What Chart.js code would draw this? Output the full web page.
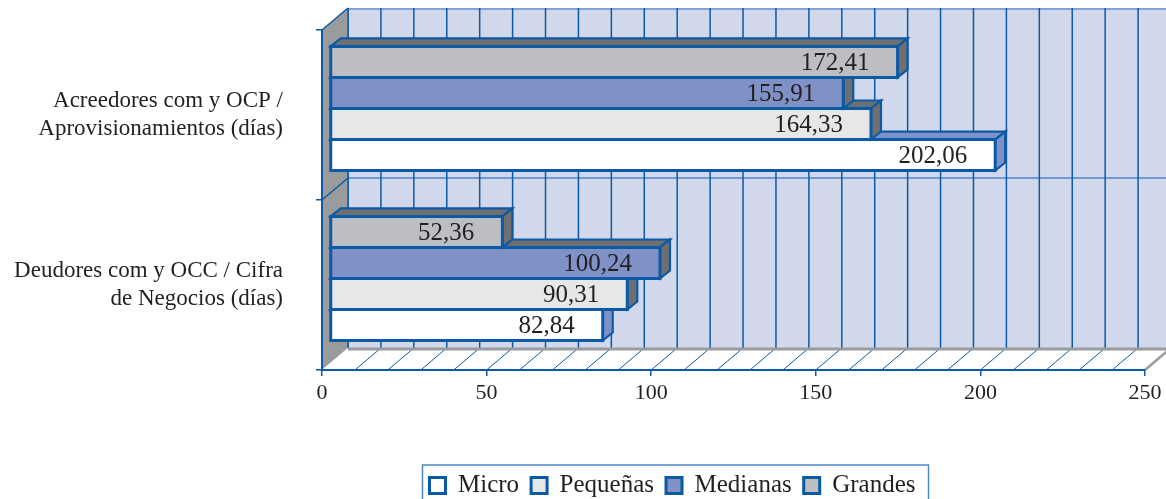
<!DOCTYPE html>
<html>
<head>
<meta charset="utf-8">
<script src="https://cdn.jsdelivr.net/npm/chart.js@4.4.0/dist/chart.umd.min.js"></script>
<style>
  html, body { margin: 0; padding: 0; background: #ffffff; }
  #wrap { width: 1166px; height: 499px; position: relative; }
</style>
</head>
<body>
<div id="wrap"><canvas id="chart"></canvas></div>
<script>
// Period ratios (days) by company size
const categories = [
  ['Acreedores com y OCP /', 'Aprovisionamientos (días)'],
  ['Deudores com y OCC / Cifra', 'de Negocios (días)']
];
const seriesNames = ['Grandes', 'Medianas', 'Pequeñas', 'Micro'];
const grandes  = [172.41, 52.36];
const medianas = [155.91, 100.24];
const pequenas = [164.33, 90.31];
const micro    = [202.06, 82.84];
const xTickValues = [0, 50, 100, 150, 200, 250];

const SERIF = '"Liberation Serif", "DejaVu Serif", serif';
const INK = '#231F20';
const BLUE = '#0B5AA6';
const SIDE_GRAY = '#6E6F71';

// front, side/top colours per series
const fills = {
  'Grandes':  { front: '#BDBEC1', side: SIDE_GRAY },
  'Medianas': { front: '#7F91C6', side: SIDE_GRAY },
  'Pequeñas': { front: '#E6E7E9', side: SIDE_GRAY },
  'Micro':    { front: '#FFFFFF', side: '#7F91C6' }
};
const seriesValues = [grandes, medianas, pequenas, micro];

// depth offsets of the pseudo-3D box
const WALL = { dx: 26, dy: -22 };      // back wall relative to the front plane
const BAR_SHIFT = { dx: 8, dy: -6.5 }; // bar front faces
const BAR_DEPTH = { dx: 10, dy: -8 };  // bar thickness in depth

function fmt(v) { return v.toFixed(2).replace('.', ','); }

function poly(ctx, pts, fill, stroke, lw) {
  ctx.beginPath();
  ctx.moveTo(pts[0][0], pts[0][1]);
  for (let i = 1; i < pts.length; i++) ctx.lineTo(pts[i][0], pts[i][1]);
  ctx.closePath();
  if (fill) { ctx.fillStyle = fill; ctx.fill(); }
  if (stroke) { ctx.strokeStyle = stroke; ctx.lineWidth = lw; ctx.stroke(); }
}
function seg(ctx, x1, y1, x2, y2, color, lw) {
  ctx.beginPath();
  ctx.moveTo(x1, y1); ctx.lineTo(x2, y2);
  ctx.strokeStyle = color; ctx.lineWidth = lw; ctx.stroke();
}

const scene3d = {
  id: 'scene3d',
  afterLayout(chart) {
    // legend sits right of centre, slightly raised
    const lg = chart.legend;
    if (!lg) return;
    lg.left += 100; lg.right += 100;
    lg.top -= 3; lg.bottom -= 3;
  },
  beforeDraw(chart) {
    const { ctx, chartArea: a, scales: { x, y } } = chart;
    const W = WALL.dx, H = WALL.dy;
    const x0 = x.getPixelForValue(0), x1 = x.getPixelForValue(250);
    const top = a.top, bot = a.bottom;
    const mid = (y.getPixelForValue(0) + y.getPixelForValue(1)) / 2;
    ctx.save();
    // back wall
    ctx.fillStyle = '#D1D8EB';
    ctx.fillRect(x0 + W, top + H, chart.width - (x0 + W), bot - top);
    seg(ctx, x0 + W, top + H + 1, chart.width, top + H + 1, '#7FA3D3', 2);
    seg(ctx, x0 + W, mid + H, chart.width, mid + H, '#6E9BD3', 2);
    for (let v = 0; v <= 250; v += 10) {
      const px = x.getPixelForValue(v) + W;
      seg(ctx, px, top + H, px, bot + H, BLUE, 1.5);
    }
    // left wall
    poly(ctx, [[x0, top], [x0 + W, top + H], [x0 + W, bot + H], [x0, bot]], '#9A9B9D');
    seg(ctx, x0, top, x0 + W, top + H, BLUE, 1.5);
    seg(ctx, x0, mid, x0 + W, mid + H, BLUE, 1.5);
    seg(ctx, x0 + W, top + H, x0 + W, bot + H, BLUE, 1.5);
    // floor
    poly(ctx, [[x0, bot], [x0 + W, bot + H], [x1 + W, bot + H], [x1, bot]], '#FFFFFF');
    for (let v = 10; v <= 240; v += 10) {
      const px = x.getPixelForValue(v);
      seg(ctx, px, bot, px + W, bot + H, BLUE, 1);
    }
    seg(ctx, x0 + W, bot + H + 1, x1 + W, bot + H + 1, '#9A9B9D', 3);
    seg(ctx, x1, bot, x1 + W, bot + H, '#9A9B9D', 2.5);
    ctx.restore();
  },
  beforeDatasetsDraw(chart) {
    const ctx = chart.ctx;
    const items = [];
    chart.data.datasets.forEach((ds, i) => {
      const meta = chart.getDatasetMeta(i);
      if (meta.hidden) return;
      meta.data.forEach((el, j) => {
        const p = el.getProps(['x', 'y', 'base', 'height'], true);
        items.push({ p, ds, value: ds.data[j] });
      });
    });
    // lower bars first so upper front faces overlap their tops
    items.sort((a, b) => b.p.y - a.p.y);
    ctx.save();
    ctx.lineJoin = 'miter';
    const D = BAR_DEPTH, S = BAR_SHIFT;
    items.forEach(({ p, ds }) => {
      const l = Math.min(p.base, p.x) + S.dx, r = Math.max(p.base, p.x) + S.dx;
      const t = p.y - p.height / 2 + S.dy, b = p.y + p.height / 2 + S.dy;
      const side = fills[ds.label].side;
      poly(ctx, [[l, t], [l + D.dx, t + D.dy], [r + D.dx, t + D.dy], [r, t]], side, BLUE, 2.2);
      poly(ctx, [[r, t], [r + D.dx, t + D.dy], [r + D.dx, b + D.dy], [r, b]], side, BLUE, 2.2);
      poly(ctx, [[l, t], [r, t], [r, b], [l, b]], ds.backgroundColor, BLUE, 3);
    });
    // value labels
    ctx.font = '25px ' + SERIF;
    ctx.fillStyle = INK;
    ctx.textAlign = 'right';
    ctx.textBaseline = 'middle';
    items.forEach(({ p, value }) => {
      const r = Math.max(p.base, p.x) + S.dx;
      ctx.fillText(fmt(value), r - 28, p.y + S.dy + 1);
    });
    ctx.restore();
    return false;
  },
  afterDraw(chart) {
    const lg = chart.legend;
    if (!lg || !lg.legendHitBoxes || !lg.legendHitBoxes.length) return;
    const hb = lg.legendHitBoxes;
    const left = Math.min(...hb.map(h => h.left)) - 7;
    const right = Math.max(...hb.map(h => h.left + h.width)) + 13;
    const top = Math.min(...hb.map(h => h.top)) - 8;
    const ctx = chart.ctx;
    ctx.save();
    ctx.strokeStyle = '#4F86C6';
    ctx.lineWidth = 1.5;
    ctx.strokeRect(left, top, right - left, chart.height - top + 10);
    ctx.restore();
  }
};

const datasets = seriesNames.map((name, i) => ({
  label: name,
  data: seriesValues[i],
  backgroundColor: fills[name].front,
  borderColor: BLUE,
  borderWidth: 3
}));

new Chart(document.getElementById('chart'), {
  type: 'bar',
  data: { labels: categories, datasets },
  options: {
    indexAxis: 'y',
    responsive: true,
    maintainAspectRatio: false,
    animation: false,
    events: [],
    datasets: { bar: { barPercentage: 1, categoryPercentage: 0.73 } },
    layout: { padding: { top: 30, right: 21, left: 0, bottom: -12 } },
    scales: {
      x: {
        min: 0, max: 250,
        afterBuildTicks: (s) => { s.ticks = xTickValues.map(v => ({ value: v })); },
        afterFit: (s) => { s.height = 94; },
        grid: { drawOnChartArea: false, color: BLUE, lineWidth: 1.5, tickLength: 6 },
        border: { display: true, color: BLUE, width: 2 },
        ticks: { color: INK, font: { family: SERIF, size: 22 }, padding: 4, maxRotation: 0 }
      },
      y: {
        afterFit: (s) => { s.width = 322; s.paddingTop = 0; s.paddingBottom = 0; },
        grid: { drawOnChartArea: false, color: BLUE, lineWidth: 1.5, tickLength: 6, offset: true },
        border: { display: true, color: BLUE, width: 2 },
        ticks: { color: INK, font: { family: SERIF, size: 23, lineHeight: 1.18 }, padding: 33 }
      }
    },
    plugins: {
      legend: {
        position: 'bottom',
        reverse: true,
        labels: {
          color: INK,
          font: { family: SERIF, size: 25 },
          boxWidth: 16, boxHeight: 16, padding: 12
        }
      },
      tooltip: { enabled: false }
    }
  },
  plugins: [scene3d]
});
</script>
</body>
</html>
